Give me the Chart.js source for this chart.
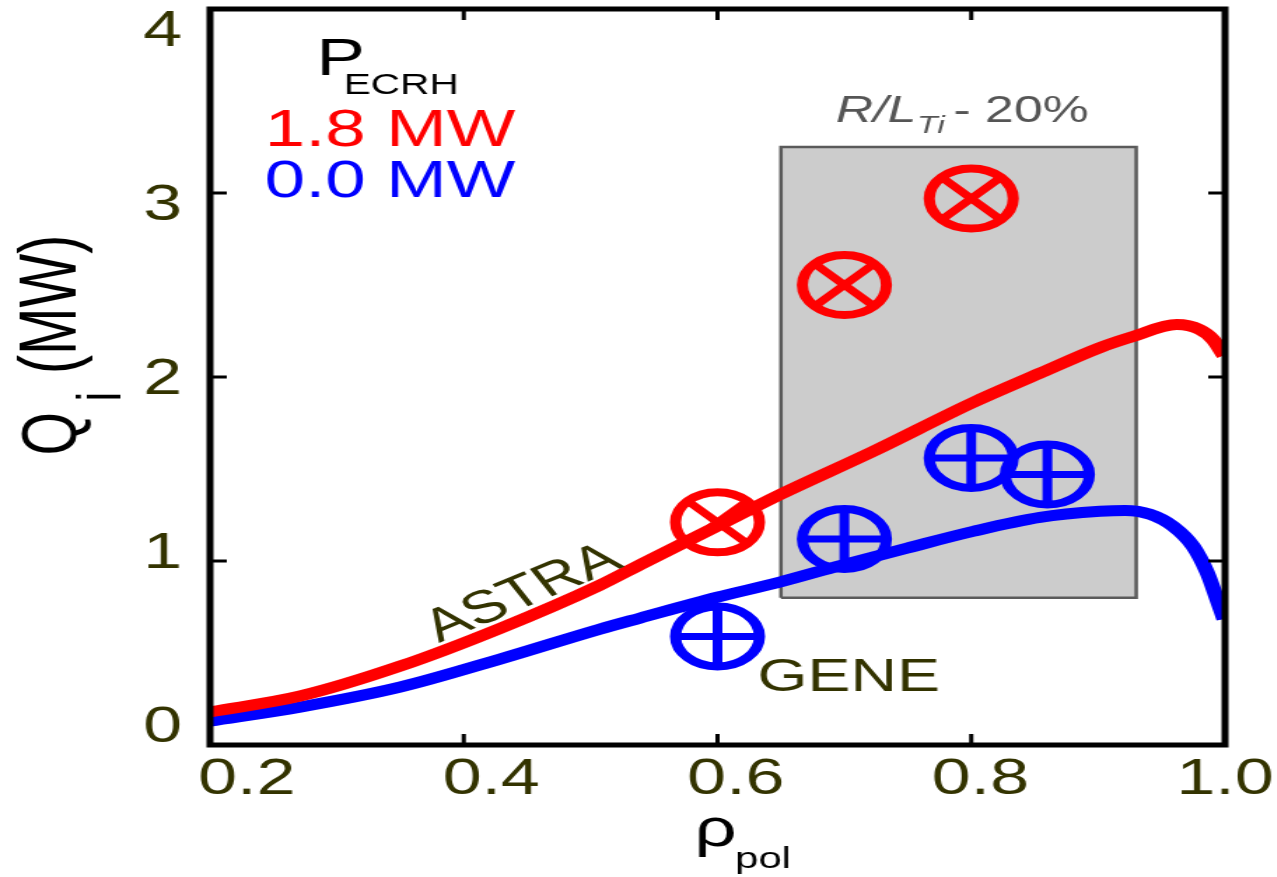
<!DOCTYPE html>
<html>
<head>
<meta charset="utf-8">
<title>Ion heat flux profiles</title>
<script src="https://cdn.jsdelivr.net/npm/chart.js@4.4.1/dist/chart.umd.min.js"></script>
<style>
  html, body { margin: 0; padding: 0; background: #ffffff; overflow: hidden; }
  /* the figure is laid out on a narrow canvas and widened horizontally */
  #wrap { position: absolute; left: 0; top: 0; width: 912px; height: 877px;
          transform: scaleX(1.4); transform-origin: 0 0; }
</style>
</head>
<body>
<div id="wrap"><canvas id="chart"></canvas></div>
<script>
// ---- ASTRA ion heat flux, P_ECRH = 1.8 MW ----
const astraRho18 = [0.200, 0.271, 0.350, 0.429, 0.507, 0.539, 0.600, 0.649, 0.7225, 0.801, 0.854, 0.9015, 0.9275, 0.962, 0.980, 0.9905, 0.9992];
const astraQ18   = [0.180, 0.266, 0.429, 0.635, 0.868, 0.980, 1.190, 1.360, 1.595, 1.860, 2.020, 2.160, 2.220, 2.285, 2.258, 2.204, 2.117];

// ---- ASTRA ion heat flux, P_ECRH = 0.0 MW ----
const astraRho00 = [0.200, 0.271, 0.350, 0.4286, 0.5074, 0.539, 0.5996, 0.649, 0.6966, 0.7494, 0.8014, 0.8542, 0.9015, 0.9212, 0.9409, 0.959, 0.9748, 0.9858, 0.9937, 0.9992];
const astraQ00   = [0.130, 0.206, 0.315, 0.467, 0.630, 0.690, 0.803, 0.885, 0.975, 1.070, 1.161, 1.237, 1.270, 1.275, 1.254, 1.189, 1.080, 0.939, 0.792, 0.684];

// ---- GENE flux-tube results ----
const geneRho18 = [0.60, 0.70, 0.80];
const geneQ18   = [1.21, 2.50, 2.97];
const geneRho00 = [0.60, 0.70, 0.80, 0.86];
const geneQ00   = [0.59, 1.12, 1.56, 1.47];

// ---- GENE range for R/L_Ti varied by 20 % ----
const bandRho = [0.65, 0.93];
const bandQ   = [0.80, 3.25];

// ---- axis ticks ----
const rhoTicks = [0.2, 0.4, 0.6, 0.8, 1.0];
const qTicks   = [0, 1, 2, 3, 4];

const OLIVE = '#333300';
const RED = '#ff0000';
const BLUE = '#0000ff';
const FONT = "'Liberation Sans', Arial, sans-serif";

const pts = (xs, ys) => xs.map((x, i) => ({ x: x, y: ys[i] }));
const bandPoly = [
  { x: bandRho[0], y: bandQ[0] }, { x: bandRho[0], y: bandQ[1] },
  { x: bandRho[1], y: bandQ[1] }, { x: bandRho[1], y: bandQ[0] },
  { x: bandRho[0], y: bandQ[0] }
];

// frame, inward tick marks and annotation text
const decor = {
  id: 'decor',
  afterDatasetsDraw(chart) {
    const { ctx, chartArea: a, scales } = chart;
    const x = scales.x, y = scales.y;
    ctx.save();
    ctx.strokeStyle = '#000';
    ctx.lineCap = 'butt';
    ctx.lineWidth = 3;
    ctx.beginPath();
    rhoTicks.forEach(v => {
      if (v <= x.min || v >= x.max) return;
      const px = x.getPixelForValue(v);
      ctx.moveTo(px, a.bottom); ctx.lineTo(px, a.bottom - 11);
      ctx.moveTo(px, a.top); ctx.lineTo(px, a.top + 11);
    });
    qTicks.forEach(v => {
      if (v <= y.min || v >= y.max) return;
      const py = y.getPixelForValue(v);
      ctx.moveTo(a.left, py); ctx.lineTo(a.left + 12, py);
      ctx.moveTo(a.right, py); ctx.lineTo(a.right - 12, py);
    });
    ctx.stroke();
    ctx.lineWidth = 5;
    ctx.lineJoin = 'miter';
    ctx.strokeRect(a.left, a.top, a.right - a.left, a.bottom - a.top);
    ctx.restore();
  },
  afterDraw(chart) {
    const ctx = chart.ctx;
    ctx.save();
    ctx.textBaseline = 'alphabetic';
    ctx.textAlign = 'left';

    // P_ECRH key
    ctx.fillStyle = '#000';
    ctx.font = `52px ${FONT}`;
    ctx.fillText('P', 226, 75);
    ctx.font = `29px ${FONT}`;
    ctx.fillText('ECRH', 245.5, 94);
    ctx.font = `52px ${FONT}`;
    ctx.fillStyle = RED;
    ctx.fillText('1.8 MW', 189, 146);
    ctx.fillStyle = BLUE;
    ctx.fillText('0.0 MW', 189, 197);

    // R/L_Ti - 20% above the shaded band
    ctx.fillStyle = '#555555';
    ctx.font = `italic 37px ${FONT}`;
    ctx.fillText('R/L', 597, 122);
    ctx.font = `italic 24px ${FONT}`;
    ctx.fillText('Ti', 655, 133);
    ctx.font = `37px ${FONT}`;
    ctx.fillText('- 20%', 681, 122);

    // curve / marker names
    ctx.fillStyle = OLIVE;
    ctx.font = `46px ${FONT}`;
    ctx.fillText('GENE', 541, 691);
    ctx.save();
    ctx.translate(313.6, 643);
    ctx.rotate(-30 * Math.PI / 180);
    ctx.fillText('ASTRA', 0, 0);
    ctx.restore();

    // axis titles
    ctx.fillStyle = '#000';
    ctx.font = `53px ${FONT}`;
    ctx.fillText('\u03c1', 496, 846);
    ctx.font = `30px ${FONT}`;
    ctx.fillText('pol', 525, 868);

    ctx.save();
    ctx.translate(53.5, 455.5);
    ctx.rotate(-Math.PI / 2);
    ctx.font = `56px ${FONT}`;
    ctx.fillText('Q', 0, 0);
    ctx.font = `44px ${FONT}`;
    ctx.fillText('i', 54, 32);
    ctx.font = `57px ${FONT}`;
    ctx.fillText('(MW)', 81.5, 0);
    ctx.restore();

    ctx.restore();
  }
};

const markerCommon = { type: 'scatter', showLine: false, pointBackgroundColor: 'rgba(0,0,0,0)', pointHoverRadius: 30 };

new Chart(document.getElementById('chart'), {
  type: 'line',
  data: {
    datasets: [
      Object.assign({}, markerCommon, {
        label: 'GENE 1.8 MW', data: pts(geneRho18, geneQ18),
        pointStyle: 'circle', pointRadius: 30, pointBorderWidth: 8, pointBorderColor: RED
      }),
      Object.assign({}, markerCommon, {
        label: 'GENE 1.8 MW (x)', data: pts(geneRho18, geneQ18),
        pointStyle: 'crossRot', pointRadius: 30, pointBorderWidth: 7, pointBorderColor: RED
      }),
      Object.assign({}, markerCommon, {
        label: 'GENE 0.0 MW', data: pts(geneRho00, geneQ00),
        pointStyle: 'circle', pointRadius: 30, pointBorderWidth: 8, pointBorderColor: BLUE
      }),
      Object.assign({}, markerCommon, {
        label: 'GENE 0.0 MW (+)', data: pts(geneRho00, geneQ00),
        pointStyle: 'cross', pointRadius: 30, pointBorderWidth: 7, pointBorderColor: BLUE
      }),
      {
        label: 'ASTRA 1.8 MW', data: pts(astraRho18, astraQ18),
        borderColor: RED, borderWidth: 11, pointRadius: 0, fill: false,
        cubicInterpolationMode: 'monotone', borderCapStyle: 'butt'
      },
      {
        label: 'ASTRA 0.0 MW', data: pts(astraRho00, astraQ00),
        borderColor: BLUE, borderWidth: 11, pointRadius: 0, fill: false,
        cubicInterpolationMode: 'monotone', borderCapStyle: 'butt'
      },
      {
        label: 'R/L_Ti - 20%', data: bandPoly,
        borderColor: '#5a5a5a', borderWidth: 2.5, backgroundColor: '#cccccc',
        pointRadius: 0, tension: 0, fill: 'shape'
      }
    ]
  },
  plugins: [decor],
  options: {
    responsive: true,
    maintainAspectRatio: false,
    animation: false,
    events: [],
    layout: { autoPadding: false, padding: { top: 9, right: 37, left: 0, bottom: 0 } },
    plugins: { legend: { display: false }, tooltip: { enabled: false } },
    scales: {
      // data axes
      x: { type: 'linear', min: 0.2, max: 1.0, display: false },
      y: { type: 'linear', min: 0, max: 4, display: false },
      // tick-label axes
      xl: {
        type: 'linear', position: 'bottom', min: 0.17, max: 1.0,
        grid: { display: false, drawTicks: false }, border: { display: false },
        afterBuildTicks: s => { s.ticks = rhoTicks.map(v => ({ value: v })); },
        afterFit: s => { s.height = 132; s.paddingLeft = 0; s.paddingRight = 0; },
        ticks: {
          color: OLIVE, padding: 5, maxRotation: 0, autoSkip: false,
          font: { family: FONT, size: 50 },
          callback: v => Number(v).toFixed(1)
        }
      },
      yl: {
        type: 'linear', position: 'left', min: -0.0977, max: 4.132,
        grid: { display: false, drawTicks: false }, border: { display: false },
        afterBuildTicks: s => { s.ticks = qTicks.map(v => ({ value: v })); },
        afterFit: s => { s.width = 150; s.paddingTop = 0; s.paddingBottom = 0; },
        ticks: {
          color: OLIVE, padding: 20, autoSkip: false,
          font: { family: FONT, size: 50 },
          callback: v => String(v)
        }
      }
    }
  }
});
</script>
</body>
</html>
